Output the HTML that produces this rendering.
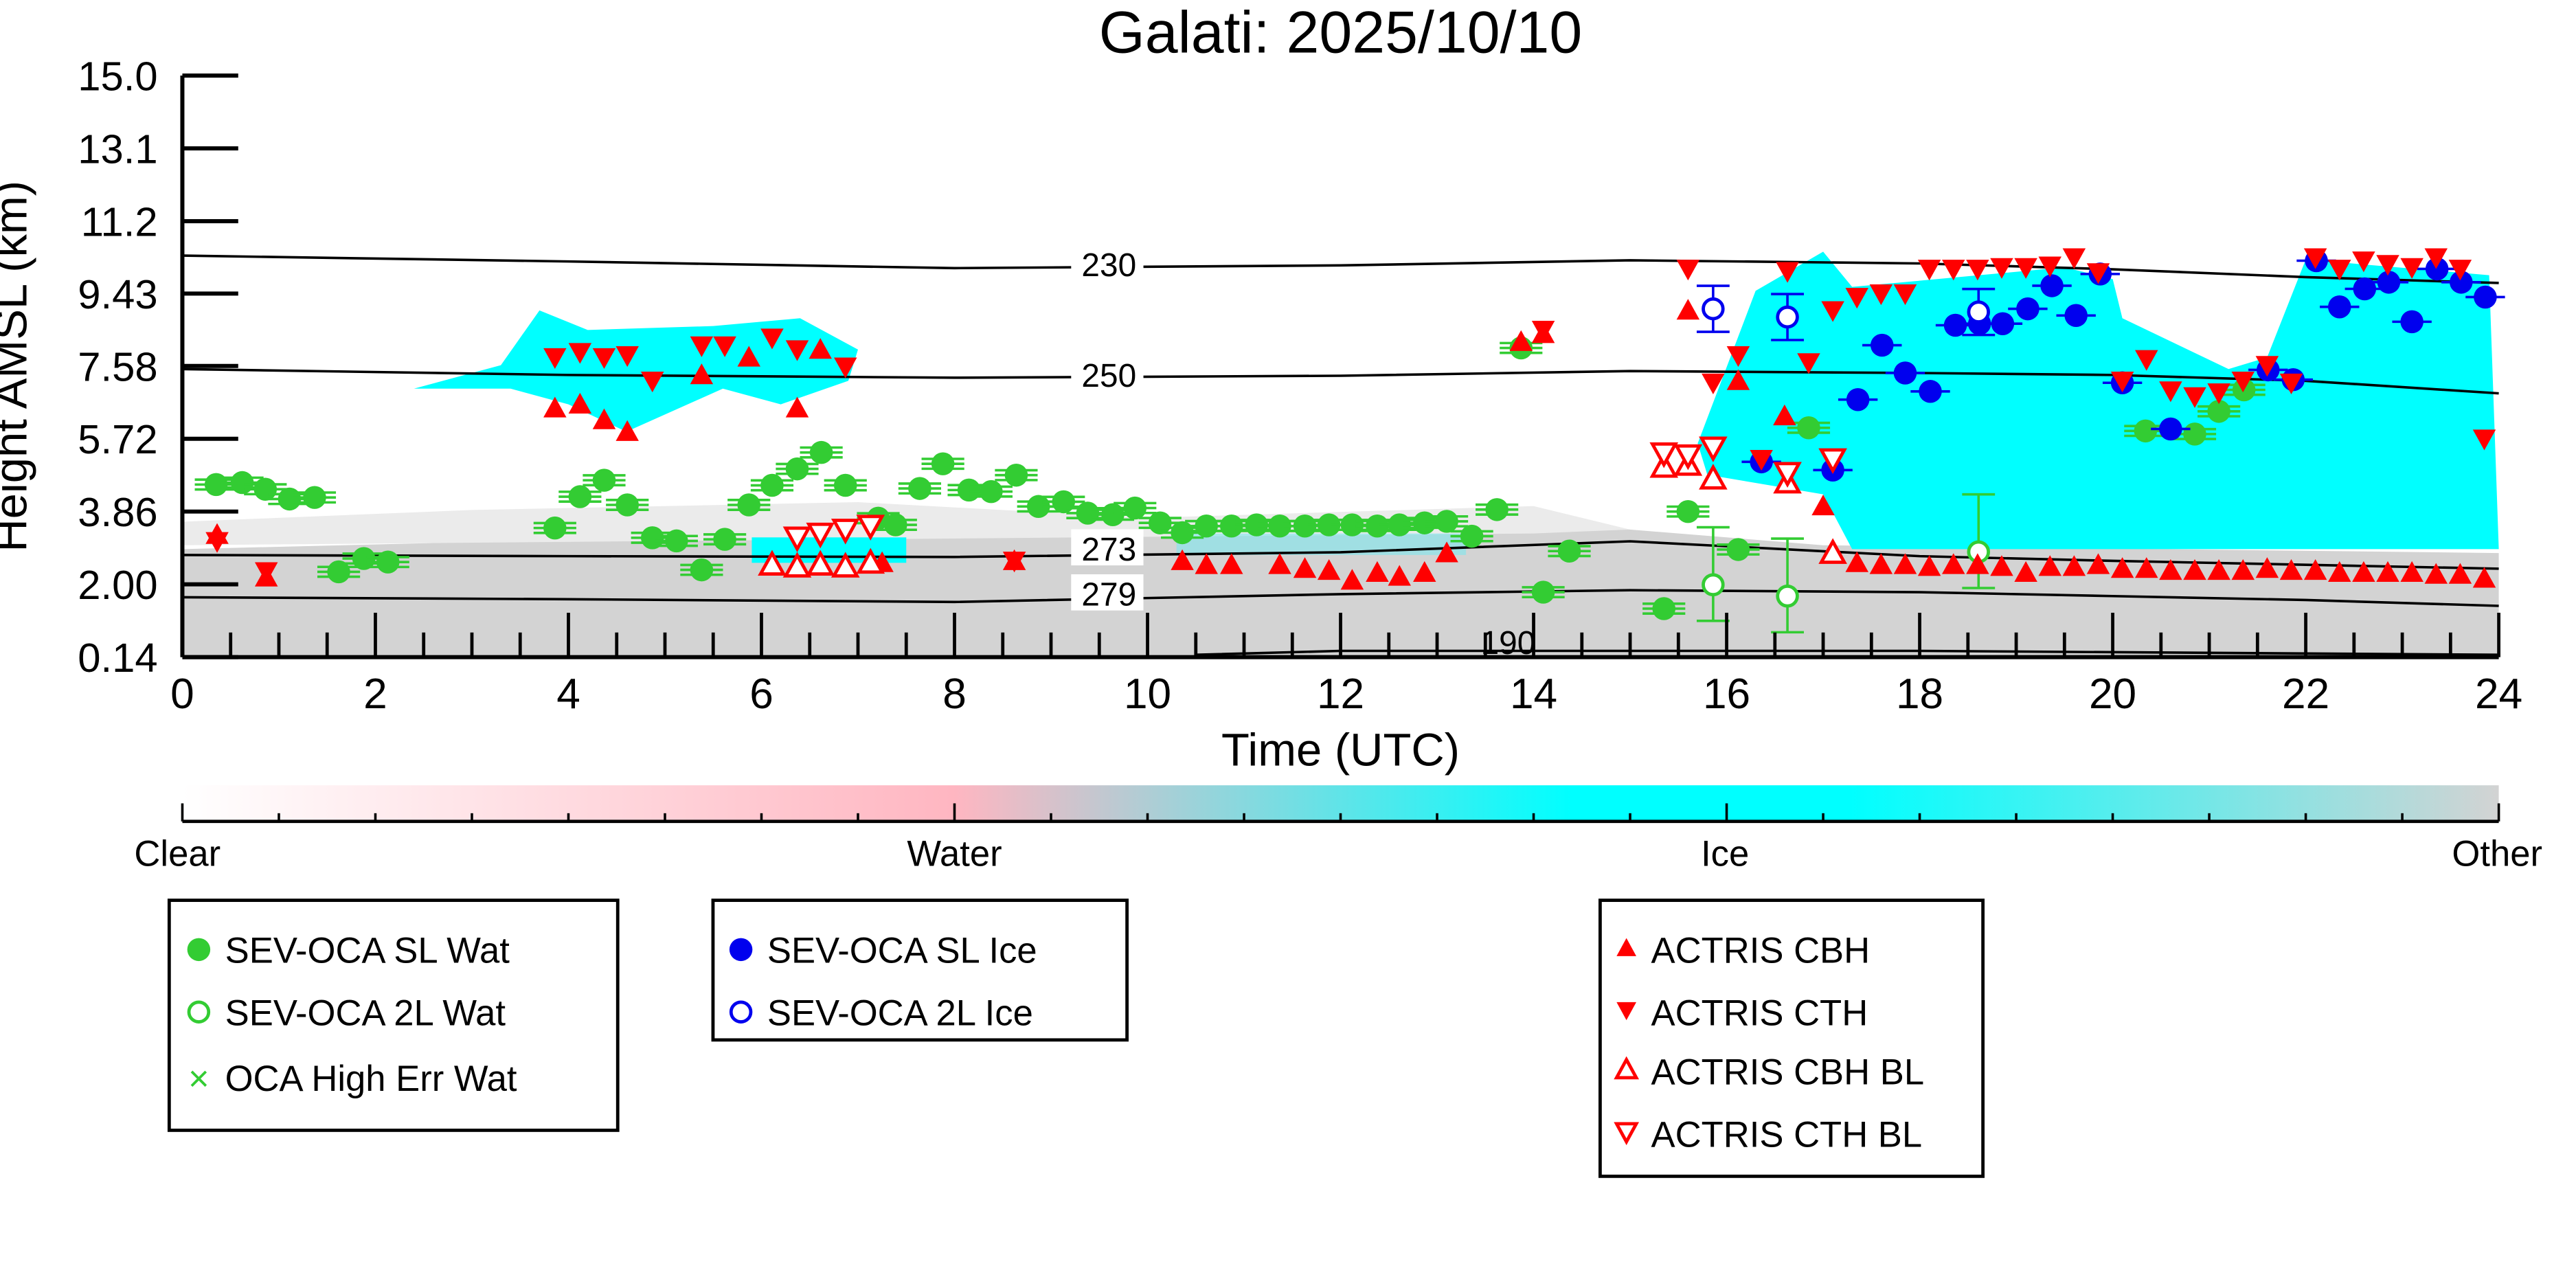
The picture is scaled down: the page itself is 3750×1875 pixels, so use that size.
<!DOCTYPE html>
<html><head><meta charset="utf-8">
<style>
html,body{margin:0;padding:0;background:#fff;}
svg{display:block;font-family:"Liberation Sans",sans-serif;}
</style></head>
<body>
<svg id="chart" xmlns="http://www.w3.org/2000/svg" width="3750" height="1875" viewBox="0 0 1568 784">
<defs>
<linearGradient id="cbar" x1="0" x2="1" y1="0" y2="0">
<stop offset="0" stop-color="#ffffff"/><stop offset="0.333" stop-color="#ffb6c1"/>
<stop offset="0.6" stop-color="#00ffff"/><stop offset="0.72" stop-color="#00ffff"/><stop offset="1" stop-color="#d3d3d3"/>
</linearGradient>
</defs>
<text x="816" y="32" font-size="36" text-anchor="middle">Galati: 2025/10/10</text>
<g id="bg"></g>
<g id="contours"></g>
<g id="marks"></g>
<g id="axes"></g>
<text x="816" y="466" font-size="28" text-anchor="middle">Time (UTC)</text>
<text transform="translate(16,223) rotate(-90)" font-size="28" text-anchor="middle">Height AMSL (km)</text>
<g>
<rect x="111" y="478" width="1410" height="22" fill="url(#cbar)"/>
<line x1="111" y1="500" x2="1521" y2="500" stroke="#000" stroke-width="2"/>
<g id="cbticks"></g>
<text x="108" y="527" font-size="22" text-anchor="middle">Clear</text>
<text x="581" y="527" font-size="22" text-anchor="middle">Water</text>
<text x="1050" y="527" font-size="22" text-anchor="middle">Ice</text>
<text x="1520" y="527" font-size="22" text-anchor="middle">Other</text>
</g>
<g>
<rect x="103" y="548" width="273" height="140" fill="#fff" stroke="#000" stroke-width="2"/>
<circle cx="121" cy="578" r="7" fill="#33cc33"/><text x="137" y="586" font-size="22">SEV-OCA SL Wat</text>
<circle cx="121" cy="616" r="6" fill="none" stroke="#33cc33" stroke-width="2"/><text x="137" y="624" font-size="22">SEV-OCA 2L Wat</text>
<text x="121" y="664" font-size="22" fill="#33cc33" text-anchor="middle">×</text><text x="137" y="664" font-size="22">OCA High Err Wat</text>
</g>
<g>
<rect x="434" y="548" width="252" height="85" fill="#fff" stroke="#000" stroke-width="2"/>
<circle cx="451" cy="578" r="7" fill="#0000ee"/><text x="467" y="586" font-size="22">SEV-OCA SL Ice</text>
<circle cx="451" cy="616" r="6" fill="none" stroke="#0000ee" stroke-width="2"/><text x="467" y="624" font-size="22">SEV-OCA 2L Ice</text>
</g>
<g>
<rect x="974" y="548" width="233" height="168" fill="#fff" stroke="#000" stroke-width="2"/>
<polygon points="990,571 996,582 984,582" fill="#ff0000"/><text x="1005" y="586" font-size="22">ACTRIS CBH</text>
<polygon points="984,610 996,610 990,621" fill="#ff0000"/><text x="1005" y="624" font-size="22">ACTRIS CTH</text>
<polygon points="990,645 996,656 984,656" fill="none" stroke="#ff0000" stroke-width="2"/><text x="1005" y="660" font-size="22">ACTRIS CBH BL</text>
<polygon points="984,684 996,684 990,695" fill="none" stroke="#ff0000" stroke-width="2"/><text x="1005" y="698" font-size="22">ACTRIS CTH BL</text>
</g>
<script>
// ---- data ----
const yTickLabels = ["0.14","2.00","3.86","5.72","7.58","9.43","11.2","13.1","15.0"];
const yTickValues = [0.14,2.00,3.86,5.72,7.58,9.43,11.28,13.14,15.0];
const xTickValues = [0,2,4,6,8,10,12,14,16,18,20,22,24];
const slWatT = [0.35,0.62,0.86,1.11,1.37,1.62,1.88,2.13,3.86,4.12,4.37,4.61,4.87,5.12,5.38,5.62,5.87,6.11,6.37,6.62,6.87,7.21,7.39,7.64,7.88,8.15,8.38,8.64,8.87,9.13,9.38,9.64,9.87,10.13,10.36,10.61,10.87,11.13,11.37,11.63,11.88,12.12,12.38,12.61,12.87,13.10,13.36,13.62,13.87,14.10,14.37,15.35,15.60,16.12,16.85,20.34,20.85,21.10,21.36];
const slWatH = [4.55,4.6,4.43,4.18,4.22,2.32,2.66,2.57,3.44,4.24,4.66,4.03,3.19,3.11,2.37,3.15,4.03,4.53,4.95,5.37,4.53,3.69,3.52,4.45,5.08,4.41,4.37,4.79,3.99,4.11,3.82,3.78,3.95,3.57,3.32,3.49,3.49,3.52,3.49,3.49,3.52,3.52,3.49,3.52,3.57,3.61,3.23,3.91,8.04,1.80,2.85,1.38,3.86,2.89,6.00,5.92,5.84,6.42,6.97];
const twoLWatT = [15.86,16.63,18.61];
const twoLWatH = [1.99,1.70,2.83];
const slIceT = [16.36,17.10,17.36,17.61,17.85,18.11,18.37,18.62,18.86,19.12,19.37,19.62,19.87,20.10,20.60,21.61,21.87,22.11,22.35,22.61,22.86,23.10,23.36,23.61,23.86];
const slIceH = [5.13,4.92,6.72,8.11,7.40,6.93,8.62,8.66,8.66,9.04,9.63,8.87,9.93,7.15,5.97,7.48,7.23,10.27,9.09,9.55,9.72,8.71,10.06,9.72,9.34];
const twoLIceT = [15.86,16.63,18.61];
const twoLIceH = [9.04,8.83,8.96];
const cbhT = [0.36,0.87,3.86,4.12,4.37,4.61,5.38,5.87,6.37,6.61,7.25,8.62,10.36,10.61,10.87,11.37,11.63,11.88,12.12,12.38,12.61,12.87,13.10,13.87,14.1,15.6,16.12,16.6,17.0,17.35,17.6,17.85,18.1,18.35,18.6,18.85,19.1,19.35,19.6,19.85,20.1,20.35,20.6,20.85,21.1,21.35,21.6,21.85,22.1,22.35,22.6,22.85,23.1,23.35,23.6,23.85];
const cbhH = [3.27,2.18,6.5,6.6,6.2,5.9,7.35,7.8,6.5,8.0,2.55,2.6,2.6,2.5,2.5,2.5,2.4,2.35,2.1,2.3,2.2,2.3,2.8,8.2,8.4,9.0,7.2,6.3,4.0,2.55,2.5,2.5,2.45,2.5,2.5,2.45,2.3,2.45,2.45,2.5,2.4,2.4,2.35,2.35,2.35,2.35,2.4,2.35,2.35,2.3,2.3,2.3,2.3,2.25,2.25,2.15];
const cthT = [0.36,0.87,3.86,4.12,4.37,4.61,4.87,5.38,5.62,6.11,6.37,6.87,8.62,14.1,15.6,15.86,16.12,16.36,16.63,16.85,17.1,17.35,17.6,17.85,18.1,18.35,18.6,18.85,19.1,19.35,19.6,19.85,20.1,20.35,20.6,20.85,21.1,21.35,21.6,21.85,22.1,22.35,22.6,22.85,23.1,23.35,23.6,23.85];
const cthH = [3.1,2.33,7.8,7.93,7.8,7.85,7.2,8.1,8.1,8.3,8.0,7.56,2.6,8.5,10.06,7.15,7.85,5.2,10.0,7.67,9.0,9.34,9.43,9.43,10.06,10.06,10.06,10.1,10.1,10.14,10.35,9.97,7.2,7.75,6.95,6.8,6.9,7.2,7.6,7.15,10.35,10.06,10.27,10.18,10.1,10.35,10.06,5.72];
const cbhBlT = [6.11,6.37,6.61,6.87,7.13,15.35,15.6,15.86,16.63,17.1];
const cbhBlH = [2.5,2.45,2.5,2.45,2.55,5.0,5.05,4.7,4.6,2.8];
const cthBlT = [6.37,6.61,6.87,7.13,15.35,15.6,15.86,16.63,17.1];
const cthBlH = [3.2,3.3,3.4,3.5,5.35,5.3,5.5,4.85,5.2];
const contourLabels = ["230","250","273","279","190"];
const contourT = [0,4,8,12,15,18,20,22,24];
const c230 = [10.4,10.25,10.08,10.15,10.28,10.2,10.05,9.85,9.7];
const c250 = [7.5,7.35,7.28,7.33,7.45,7.4,7.35,7.2,6.88];
const c273 = [2.75,2.72,2.7,2.82,3.1,2.72,2.6,2.5,2.4];
const c279 = [1.67,1.62,1.55,1.75,1.85,1.8,1.7,1.6,1.45];
// ---- axis functions ----
const X0=111,X1=1521,Y0=400,Y1=46;
const xs = t => X0 + (t/24)*(X1-X0);
const ys = h => Y0 - (h-0.14)/(15.0-0.14)*(Y0-Y1);
const NS="http://www.w3.org/2000/svg";
function mk(tag, attrs, parent){const e=document.createElementNS(NS,tag);for(const k in attrs)e.setAttribute(k,attrs[k]);parent.appendChild(e);return e;}
const bg=document.getElementById('bg'), ct=document.getElementById('contours'), mg=document.getElementById('marks'), ax=document.getElementById('axes');
// background classification (approximate areas)
let e;
e=mk('polygon',{points:`${xs(0)},${ys(2.9)} ${xs(5)},${ys(3.2)} ${xs(10)},${ys(3.3)} ${xs(14)},${ys(3.6)} ${xs(17)},${ys(3.0)} ${xs(24)},${ys(2.8)} ${xs(24)},${Y0} ${xs(0)},${Y0}`,fill:'#d3d3d3'},bg);


e=mk('polygon',{points:`${xs(0)},${ys(3.6)} ${xs(3)},${ys(3.9)} ${xs(7)},${ys(4.1)} ${xs(10)},${ys(3.7)} ${xs(14)},${ys(4.0)} ${xs(15)},${ys(3.4)} ${xs(14)},${ys(3.3)} ${xs(0)},${ys(3.0)}`,fill:'#ebebeb'},bg);


e=mk('polygon',{points:`${xs(2.4)},${ys(7.0)} ${xs(3.3)},${ys(7.6)} ${xs(3.7)},${ys(9.0)} ${xs(4.2)},${ys(8.5)} ${xs(5.5)},${ys(8.6)} ${xs(6.4)},${ys(8.8)} ${xs(7.0)},${ys(8.0)} ${xs(6.9)},${ys(7.2)} ${xs(6.2)},${ys(6.6)} ${xs(5.6)},${ys(7.0)} ${xs(4.6)},${ys(5.9)} ${xs(4.0)},${ys(6.6)} ${xs(3.4)},${ys(7.0)}`,fill:'#00ffff'},bg);


e=mk('polygon',{points:`${xs(15.7)},${ys(5.6)} ${xs(16.3)},${ys(9.5)} ${xs(17.0)},${ys(10.5)} ${xs(17.3)},${ys(9.6)} ${xs(19.5)},${ys(10.1)} ${xs(20.0)},${ys(9.8)} ${xs(20.1)},${ys(8.8)} ${xs(21.2)},${ys(7.5)} ${xs(21.6)},${ys(7.8)} ${xs(22.0)},${ys(10.3)} ${xs(23.9)},${ys(9.9)} ${xs(24)},${ys(2.9)} ${xs(17.3)},${ys(2.9)} ${xs(17.0)},${ys(4.3)} ${xs(15.8)},${ys(4.8)}`,fill:'#00ffff'},bg);


e=mk('rect',{x:xs(5.9),y:ys(3.2),width:xs(7.5)-xs(5.9),height:ys(2.55)-ys(3.2),fill:'#00ffff'},bg);


e=mk('rect',{x:xs(10.3),y:ys(3.3),width:xs(13.3)-xs(10.3),height:ys(2.75)-ys(3.3),fill:'#7fe8ee',opacity:0.6},bg);


// contours
[c230,c250,c273,c279].forEach((arr,i)=>{
  const p=mk('polyline',{points:contourT.map((t,j)=>xs(t)+','+ys(arr[j])).join(' '),fill:'none',stroke:'#000','stroke-width':1.5},ct);
  
  
  const h=arr[4]+(arr[3]-arr[4])*0.55;
  const r=mk('rect',{x:652,y:ys(h)-11,width:44,height:22,fill:'#fff'},ct);
  const tx=mk('text',{x:675,y:ys(h)+8,'font-size':20,'text-anchor':'middle'},ct);
  tx.textContent=contourLabels[i];
  
  
});
e=mk('polyline',{points:`${xs(10.5)},${ys(0.2)} ${xs(12)},${ys(0.3)} ${xs(18)},${ys(0.3)} ${xs(24)},${ys(0.2)}`,fill:'none',stroke:'#000','stroke-width':1.5},ct);


e=mk('text',{x:918,y:ys(0.14)-2,'font-size':20,'text-anchor':'middle'},ct);e.textContent='190';


// markers
function errbar(x,y,col,w){mk('line',{x1:x-w,y1:y,x2:x+w,y2:y,stroke:col,'stroke-width':1.5},mg);mk('line',{x1:x-w,y1:y-3,x2:x+w,y2:y-3,stroke:col,'stroke-width':1.5},mg);mk('line',{x1:x-w,y1:y+3,x2:x+w,y2:y+3,stroke:col,'stroke-width':1.5},mg);}
slWatT.forEach((t,i)=>{const x=xs(t),y=ys(slWatH[i]);errbar(x,y,'#33cc33',13);
  const c=mk('circle',{cx:x,cy:y,r:7,fill:'#33cc33'},mg);
  
  });
twoLWatT.forEach((t,i)=>{const x=xs(t),y=ys(twoLWatH[i]);
  mk('line',{x1:x,y1:y-35,x2:x,y2:y+22,stroke:'#33cc33','stroke-width':1.5},mg);
  mk('line',{x1:x-10,y1:y-35,x2:x+10,y2:y-35,stroke:'#33cc33','stroke-width':1.5},mg);
  mk('line',{x1:x-10,y1:y+22,x2:x+10,y2:y+22,stroke:'#33cc33','stroke-width':1.5},mg);
  const c=mk('circle',{cx:x,cy:y,r:6,fill:'#fff',stroke:'#33cc33','stroke-width':2},mg);
  
  });
slIceT.forEach((t,i)=>{const x=xs(t),y=ys(slIceH[i]);mk('line',{x1:x-12,y1:y,x2:x+12,y2:y,stroke:'#0000ee','stroke-width':1.5},mg);
  const c=mk('circle',{cx:x,cy:y,r:7,fill:'#0000ee'},mg);
  
  });
twoLIceT.forEach((t,i)=>{const x=xs(t),y=ys(twoLIceH[i]);
  mk('line',{x1:x,y1:y-14,x2:x,y2:y+14,stroke:'#0000ee','stroke-width':1.5},mg);
  mk('line',{x1:x-10,y1:y-14,x2:x+10,y2:y-14,stroke:'#0000ee','stroke-width':1.5},mg);
  mk('line',{x1:x-10,y1:y+14,x2:x+10,y2:y+14,stroke:'#0000ee','stroke-width':1.5},mg);
  const c=mk('circle',{cx:x,cy:y,r:6,fill:'#fff',stroke:'#0000ee','stroke-width':2},mg);
  
  });
function tri(x,y,up,filled){const s=7;const pts=up?`${x},${y-s} ${x+s},${y+s*0.8} ${x-s},${y+s*0.8}`:`${x-s},${y-s*0.8} ${x+s},${y-s*0.8} ${x},${y+s}`;
  return mk('polygon',{points:pts,fill:filled?'#ff0000':'#fff',stroke:'#ff0000','stroke-width':filled?0:2},mg);}
cbhT.forEach((t,i)=>{const p=tri(xs(t),ys(cbhH[i]),true,true);
  
  });
cthT.forEach((t,i)=>{const p=tri(xs(t),ys(cthH[i]),false,true);
  
  });
cbhBlT.forEach((t,i)=>{const p=tri(xs(t),ys(cbhBlH[i]),true,false);
  
  });
cthBlT.forEach((t,i)=>{const p=tri(xs(t),ys(cthBlH[i]),false,false);
  
  });
// axes
mk('line',{x1:X0,y1:Y1,x2:X0,y2:Y0,stroke:'#000','stroke-width':2.5},ax);
mk('line',{x1:X0,y1:Y0,x2:X1,y2:Y0,stroke:'#000','stroke-width':2.5},ax);
yTickValues.forEach((v,i)=>{const y=ys(v);mk('line',{x1:X0,y1:y,x2:X0+34,y2:y,stroke:'#000','stroke-width':2.5},ax);
  const t=mk('text',{x:96,y:y+9,'font-size':25,'text-anchor':'end'},ax);t.textContent=yTickLabels[i];
  
  });
for(let h=0;h<=24;h+=0.5){const x=xs(h);const major=(h%2===0);mk('line',{x1:x,y1:Y0,x2:x,y2:Y0-(major?27:15),stroke:'#000','stroke-width':2},ax);}
xTickValues.forEach(v=>{const t=mk('text',{x:xs(v),y:Y0+31,'font-size':26,'text-anchor':'middle'},ax);t.textContent=String(v);
  
  });
const cb=document.getElementById('cbticks');
for(let i=0;i<=24;i++){const x=X0+i*(X1-X0)/24;mk('line',{x1:x,y1:500,x2:x,y2:(i%8===0)?489:495,stroke:'#000','stroke-width':1.5},cb);}
</script>
</svg>
</body></html>
